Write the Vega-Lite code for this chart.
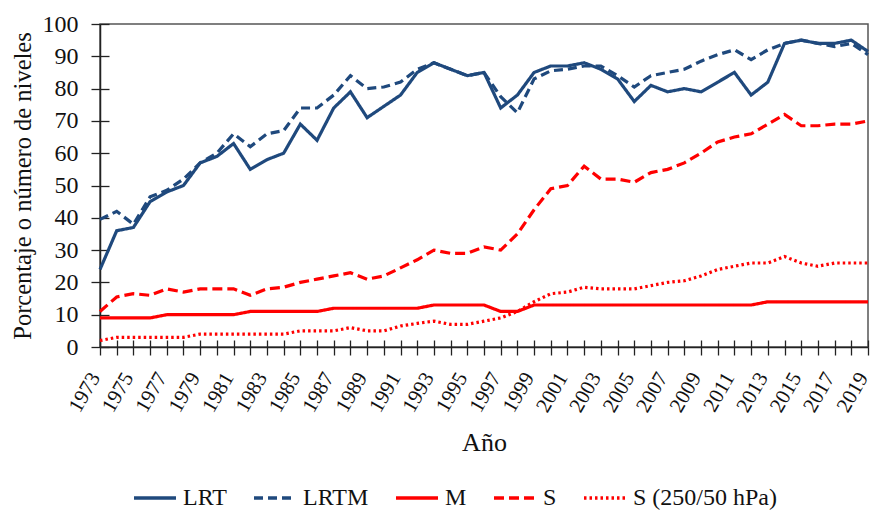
{
  "$schema": "https://vega.github.io/schema/vega-lite/v6.json",
  "width": 768,
  "height": 323,
  "autosize": {"type": "none"},
  "padding": {"left": 100, "top": 24, "right": 6, "bottom": 163},
  "background": "white",
  "config": {
    "font": "Liberation Serif",
    "view": {"stroke": "#555555", "strokeWidth": 1.5},
    "legend": {"labelFont": "Liberation Serif"},
    "axis": {"domainColor": "#222222", "tickColor": "#222222", "labelColor": "#111111", "titleColor": "#111111", "grid": false, "labelFont": "Liberation Serif", "titleFont": "Liberation Serif", "titleFontWeight": "normal", "domainWidth": 1.5, "tickWidth": 1.3}
  },
  "data": {"values": [
    {"year":1973,"serie":"LRT","value":24},{"year":1974,"serie":"LRT","value":36},{"year":1975,"serie":"LRT","value":37},{"year":1976,"serie":"LRT","value":45},{"year":1977,"serie":"LRT","value":48},{"year":1978,"serie":"LRT","value":50},{"year":1979,"serie":"LRT","value":57},{"year":1980,"serie":"LRT","value":59},{"year":1981,"serie":"LRT","value":63},{"year":1982,"serie":"LRT","value":55},
    {"year":1983,"serie":"LRT","value":58},{"year":1984,"serie":"LRT","value":60},{"year":1985,"serie":"LRT","value":69},{"year":1986,"serie":"LRT","value":64},{"year":1987,"serie":"LRT","value":74},{"year":1988,"serie":"LRT","value":79},{"year":1989,"serie":"LRT","value":71},{"year":1990,"serie":"LRT","value":74.5},{"year":1991,"serie":"LRT","value":78},{"year":1992,"serie":"LRT","value":85},
    {"year":1993,"serie":"LRT","value":88},{"year":1994,"serie":"LRT","value":86},{"year":1995,"serie":"LRT","value":84},{"year":1996,"serie":"LRT","value":85},{"year":1997,"serie":"LRT","value":74},{"year":1998,"serie":"LRT","value":78},{"year":1999,"serie":"LRT","value":85},{"year":2000,"serie":"LRT","value":87},{"year":2001,"serie":"LRT","value":87},{"year":2002,"serie":"LRT","value":88},
    {"year":2003,"serie":"LRT","value":86},{"year":2004,"serie":"LRT","value":83},{"year":2005,"serie":"LRT","value":76},{"year":2006,"serie":"LRT","value":81},{"year":2007,"serie":"LRT","value":79},{"year":2008,"serie":"LRT","value":80},{"year":2009,"serie":"LRT","value":79},{"year":2010,"serie":"LRT","value":82},{"year":2011,"serie":"LRT","value":85},{"year":2012,"serie":"LRT","value":78},
    {"year":2013,"serie":"LRT","value":82},{"year":2014,"serie":"LRT","value":94},{"year":2015,"serie":"LRT","value":95},{"year":2016,"serie":"LRT","value":94},{"year":2017,"serie":"LRT","value":94},{"year":2018,"serie":"LRT","value":95},{"year":2019,"serie":"LRT","value":91.5},

    {"year":1973,"serie":"LRTM","value":39.5},{"year":1974,"serie":"LRTM","value":42},{"year":1975,"serie":"LRTM","value":38},{"year":1976,"serie":"LRTM","value":46.5},{"year":1977,"serie":"LRTM","value":48.5},{"year":1978,"serie":"LRTM","value":52},{"year":1979,"serie":"LRTM","value":57},{"year":1980,"serie":"LRTM","value":60},{"year":1981,"serie":"LRTM","value":66},{"year":1982,"serie":"LRTM","value":62},
    {"year":1983,"serie":"LRTM","value":66},{"year":1984,"serie":"LRTM","value":67},{"year":1985,"serie":"LRTM","value":74},{"year":1986,"serie":"LRTM","value":74},{"year":1987,"serie":"LRTM","value":78},{"year":1988,"serie":"LRTM","value":84},{"year":1989,"serie":"LRTM","value":80},{"year":1990,"serie":"LRTM","value":80.5},{"year":1991,"serie":"LRTM","value":82},{"year":1992,"serie":"LRTM","value":86},
    {"year":1993,"serie":"LRTM","value":88},{"year":1994,"serie":"LRTM","value":86},{"year":1995,"serie":"LRTM","value":84},{"year":1996,"serie":"LRTM","value":85},{"year":1997,"serie":"LRTM","value":77.5},{"year":1998,"serie":"LRTM","value":72.5},{"year":1999,"serie":"LRTM","value":83},{"year":2000,"serie":"LRTM","value":85.5},{"year":2001,"serie":"LRTM","value":86},{"year":2002,"serie":"LRTM","value":87},
    {"year":2003,"serie":"LRTM","value":87},{"year":2004,"serie":"LRTM","value":84},{"year":2005,"serie":"LRTM","value":80.5},{"year":2006,"serie":"LRTM","value":84},{"year":2007,"serie":"LRTM","value":85},{"year":2008,"serie":"LRTM","value":86},{"year":2009,"serie":"LRTM","value":88.5},{"year":2010,"serie":"LRTM","value":90.5},{"year":2011,"serie":"LRTM","value":92},{"year":2012,"serie":"LRTM","value":89},
    {"year":2013,"serie":"LRTM","value":92},{"year":2014,"serie":"LRTM","value":94},{"year":2015,"serie":"LRTM","value":95},{"year":2016,"serie":"LRTM","value":94},{"year":2017,"serie":"LRTM","value":93},{"year":2018,"serie":"LRTM","value":94},{"year":2019,"serie":"LRTM","value":90.5},

    {"year":1973,"serie":"M","value":9},{"year":1974,"serie":"M","value":9},{"year":1975,"serie":"M","value":9},{"year":1976,"serie":"M","value":9},{"year":1977,"serie":"M","value":10},{"year":1978,"serie":"M","value":10},{"year":1979,"serie":"M","value":10},{"year":1980,"serie":"M","value":10},{"year":1981,"serie":"M","value":10},{"year":1982,"serie":"M","value":11},
    {"year":1983,"serie":"M","value":11},{"year":1984,"serie":"M","value":11},{"year":1985,"serie":"M","value":11},{"year":1986,"serie":"M","value":11},{"year":1987,"serie":"M","value":12},{"year":1988,"serie":"M","value":12},{"year":1989,"serie":"M","value":12},{"year":1990,"serie":"M","value":12},{"year":1991,"serie":"M","value":12},{"year":1992,"serie":"M","value":12},
    {"year":1993,"serie":"M","value":13},{"year":1994,"serie":"M","value":13},{"year":1995,"serie":"M","value":13},{"year":1996,"serie":"M","value":13},{"year":1997,"serie":"M","value":11},{"year":1998,"serie":"M","value":11},{"year":1999,"serie":"M","value":13},{"year":2000,"serie":"M","value":13},{"year":2001,"serie":"M","value":13},{"year":2002,"serie":"M","value":13},
    {"year":2003,"serie":"M","value":13},{"year":2004,"serie":"M","value":13},{"year":2005,"serie":"M","value":13},{"year":2006,"serie":"M","value":13},{"year":2007,"serie":"M","value":13},{"year":2008,"serie":"M","value":13},{"year":2009,"serie":"M","value":13},{"year":2010,"serie":"M","value":13},{"year":2011,"serie":"M","value":13},{"year":2012,"serie":"M","value":13},
    {"year":2013,"serie":"M","value":14},{"year":2014,"serie":"M","value":14},{"year":2015,"serie":"M","value":14},{"year":2016,"serie":"M","value":14},{"year":2017,"serie":"M","value":14},{"year":2018,"serie":"M","value":14},{"year":2019,"serie":"M","value":14},

    {"year":1973,"serie":"S","value":11},{"year":1974,"serie":"S","value":15.5},{"year":1975,"serie":"S","value":16.5},{"year":1976,"serie":"S","value":16},{"year":1977,"serie":"S","value":18},{"year":1978,"serie":"S","value":17},{"year":1979,"serie":"S","value":18},{"year":1980,"serie":"S","value":18},{"year":1981,"serie":"S","value":18},{"year":1982,"serie":"S","value":16},
    {"year":1983,"serie":"S","value":18},{"year":1984,"serie":"S","value":18.5},{"year":1985,"serie":"S","value":20},{"year":1986,"serie":"S","value":21},{"year":1987,"serie":"S","value":22},{"year":1988,"serie":"S","value":23},{"year":1989,"serie":"S","value":21},{"year":1990,"serie":"S","value":22},{"year":1991,"serie":"S","value":24.5},{"year":1992,"serie":"S","value":27},
    {"year":1993,"serie":"S","value":30},{"year":1994,"serie":"S","value":29},{"year":1995,"serie":"S","value":29},{"year":1996,"serie":"S","value":31},{"year":1997,"serie":"S","value":30},{"year":1998,"serie":"S","value":35},{"year":1999,"serie":"S","value":42.5},{"year":2000,"serie":"S","value":49},{"year":2001,"serie":"S","value":50},{"year":2002,"serie":"S","value":56},
    {"year":2003,"serie":"S","value":52},{"year":2004,"serie":"S","value":52},{"year":2005,"serie":"S","value":51},{"year":2006,"serie":"S","value":54},{"year":2007,"serie":"S","value":55},{"year":2008,"serie":"S","value":57},{"year":2009,"serie":"S","value":60},{"year":2010,"serie":"S","value":63.5},{"year":2011,"serie":"S","value":65},{"year":2012,"serie":"S","value":66},
    {"year":2013,"serie":"S","value":69},{"year":2014,"serie":"S","value":72},{"year":2015,"serie":"S","value":68.5},{"year":2016,"serie":"S","value":68.5},{"year":2017,"serie":"S","value":69},{"year":2018,"serie":"S","value":69},{"year":2019,"serie":"S","value":70},

    {"year":1973,"serie":"S (250/50 hPa)","value":2},{"year":1974,"serie":"S (250/50 hPa)","value":3},{"year":1975,"serie":"S (250/50 hPa)","value":3},{"year":1976,"serie":"S (250/50 hPa)","value":3},{"year":1977,"serie":"S (250/50 hPa)","value":3},{"year":1978,"serie":"S (250/50 hPa)","value":3},{"year":1979,"serie":"S (250/50 hPa)","value":4},{"year":1980,"serie":"S (250/50 hPa)","value":4},{"year":1981,"serie":"S (250/50 hPa)","value":4},{"year":1982,"serie":"S (250/50 hPa)","value":4},
    {"year":1983,"serie":"S (250/50 hPa)","value":4},{"year":1984,"serie":"S (250/50 hPa)","value":4},{"year":1985,"serie":"S (250/50 hPa)","value":5},{"year":1986,"serie":"S (250/50 hPa)","value":5},{"year":1987,"serie":"S (250/50 hPa)","value":5},{"year":1988,"serie":"S (250/50 hPa)","value":6},{"year":1989,"serie":"S (250/50 hPa)","value":5},{"year":1990,"serie":"S (250/50 hPa)","value":5},{"year":1991,"serie":"S (250/50 hPa)","value":6.5},{"year":1992,"serie":"S (250/50 hPa)","value":7.3},
    {"year":1993,"serie":"S (250/50 hPa)","value":8},{"year":1994,"serie":"S (250/50 hPa)","value":7},{"year":1995,"serie":"S (250/50 hPa)","value":7},{"year":1996,"serie":"S (250/50 hPa)","value":8},{"year":1997,"serie":"S (250/50 hPa)","value":9},{"year":1998,"serie":"S (250/50 hPa)","value":11},{"year":1999,"serie":"S (250/50 hPa)","value":14},{"year":2000,"serie":"S (250/50 hPa)","value":16.5},{"year":2001,"serie":"S (250/50 hPa)","value":17},{"year":2002,"serie":"S (250/50 hPa)","value":18.5},
    {"year":2003,"serie":"S (250/50 hPa)","value":18},{"year":2004,"serie":"S (250/50 hPa)","value":18},{"year":2005,"serie":"S (250/50 hPa)","value":18},{"year":2006,"serie":"S (250/50 hPa)","value":19},{"year":2007,"serie":"S (250/50 hPa)","value":20},{"year":2008,"serie":"S (250/50 hPa)","value":20.5},{"year":2009,"serie":"S (250/50 hPa)","value":22},{"year":2010,"serie":"S (250/50 hPa)","value":24},{"year":2011,"serie":"S (250/50 hPa)","value":25},{"year":2012,"serie":"S (250/50 hPa)","value":26},
    {"year":2013,"serie":"S (250/50 hPa)","value":26},{"year":2014,"serie":"S (250/50 hPa)","value":28},{"year":2015,"serie":"S (250/50 hPa)","value":26},{"year":2016,"serie":"S (250/50 hPa)","value":25},{"year":2017,"serie":"S (250/50 hPa)","value":26},{"year":2018,"serie":"S (250/50 hPa)","value":26},{"year":2019,"serie":"S (250/50 hPa)","value":26}
  ]},
  "layer": [
    {
      "mark": {"type": "line", "strokeWidth": 3.2, "strokeCap": "butt", "strokeJoin": "miter"},
      "encoding": {
        "x": {"field": "year", "type": "quantitative",
          "scale": {"domain": [1973, 2019], "nice": false, "zero": false},
          "axis": {"orient": "bottom", "values": [1973,1974,1975,1976,1977,1978,1979,1980,1981,1982,1983,1984,1985,1986,1987,1988,1989,1990,1991,1992,1993,1994,1995,1996,1997,1998,1999,2000,2001,2002,2003,2004,2005,2006,2007,2008,2009,2010,2011,2012,2013,2014,2015,2016,2017,2018,2019],
            "format": "d", "labelExpr": "datum.value % 2 == 1 ? datum.label : ''", "labelAngle": -60, "labelAlign": "right", "labelBaseline": "middle", "labelOverlap": false, "labelFlush": false, "labelBound": false, "labelOffset": -5,
            "labelFontSize": 21, "labelPadding": 19, "tickSize": 8, "title": "Año", "titleFontSize": 26, "titlePadding": 14}},
        "y": {"field": "value", "type": "quantitative",
          "scale": {"domain": [0, 100], "nice": false},
          "axis": {"orient": "left", "values": [0,10,20,30,40,50,60,70,80,90,100], "labelFontSize": 24, "labelPadding": 13, "tickSize": 9, "title": "Porcentaje o número de niveles", "titleFontSize": 24.5, "titlePadding": 7}},
        "color": {"field": "serie", "type": "nominal",
          "scale": {"domain": ["LRT", "LRTM", "M", "S", "S (250/50 hPa)"], "range": ["#1F497D", "#1F497D", "#FF0000", "#FF0000", "#FF0000"]},
          "legend": {"title": null, "orient": "none", "legendX": 32, "legendY": 451, "direction": "horizontal", "symbolType": "stroke", "symbolSize": 1764, "symbolStrokeWidth": 3.5, "labelFontSize": 24, "labelFont": "Liberation Serif", "labelColor": "#111111", "labelOffset": 5, "columnPadding": 20, "labelLimit": 300}},
        "strokeDash": {"field": "serie", "type": "nominal",
          "scale": {"domain": ["LRT", "LRTM", "M", "S", "S (250/50 hPa)"], "range": [[1, 0], [9, 5], [1, 0], [10, 5], [2.5, 3]]},
          "legend": {"title": null, "orient": "none", "legendX": 32, "legendY": 451, "direction": "horizontal", "symbolType": "stroke", "symbolSize": 1764, "symbolStrokeWidth": 3.5, "labelFontSize": 24, "labelFont": "Liberation Serif", "labelColor": "#111111", "labelOffset": 5, "columnPadding": 20, "labelLimit": 300}}
      }
    },
    {
      "mark": {"type": "line", "opacity": 0},
      "encoding": {
        "detail": {"field": "serie"},
        "x": {"field": "year", "type": "quantitative",
          "axis": {"orient": "bottom", "values": [1973,1974,1975,1976,1977,1978,1979,1980,1981,1982,1983,1984,1985,1986,1987,1988,1989,1990,1991,1992,1993,1994,1995,1996,1997,1998,1999,2000,2001,2002,2003,2004,2005,2006,2007,2008,2009,2010,2011,2012,2013,2014,2015,2016,2017,2018,2019], "labels": false, "domain": false, "tickSize": -7, "title": null}},
        "y": {"field": "value", "type": "quantitative",
          "axis": {"orient": "left", "values": [0,10,20,30,40,50,60,70,80,90,100], "labels": false, "domain": false, "tickSize": -9, "title": null}}
      }
    }
  ],
  "resolve": {"axis": {"x": "independent", "y": "independent"}}
}
